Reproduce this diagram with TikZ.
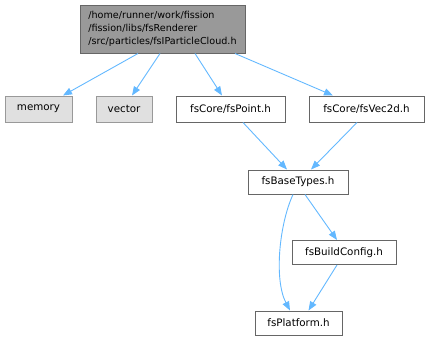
\documentclass[tikz,border=0pt]{standalone}
\usepackage{fontspec}
\setmainfont{DejaVu Sans}
\usetikzlibrary{arrows.meta}
\definecolor{edgeblue}{HTML}{63B8FF}
\definecolor{mainfill}{HTML}{999999}
\definecolor{sysfill}{HTML}{E0E0E0}
\definecolor{boxline}{HTML}{666666}
\definecolor{sysline}{HTML}{999999}

\begin{document}
\begin{tikzpicture}[x=1pt, y=-1pt,
    every node/.style={font=\fontsize{10.3}{13}\selectfont, inner sep=0pt, line width=1pt},
    mainbox/.style={draw=boxline, fill=mainfill, align=left, minimum width=165pt, minimum height=48pt, font=\fontsize{9.6}{13}\selectfont},
    sysbox/.style={draw=sysline, fill=sysfill, minimum height=26pt},
    filebox/.style={draw=boxline, fill=white, minimum height=24pt},
    edge/.style={draw=edgeblue, line width=0.9pt, -{Triangle[length=9pt,width=7pt]}}]
      \useasboundingbox (0,0) rectangle (429,340);

      % Nodes
      \node[mainbox] (top) at (162.5, 29) {/home/runner/work/fission\\/fission/libs/fsRenderer\\/src/particles/fsIParticleCloud.h};

      \node[sysbox, minimum width=67pt] (memory) at (38.5, 109) {memory};
      \node[sysbox, minimum width=56pt] (vector) at (124, 109) {vector};
      \node[filebox, minimum width=109pt, minimum height=26pt] (point) at (230.5, 109) {fsCore/fsPoint.h};
      \node[filebox, minimum width=115pt, minimum height=26pt] (vec2d) at (366.5, 109) {fsCore/fsVec2d.h};

      \node[filebox, minimum width=100pt] (basetypes) at (298, 182) {fsBaseTypes.h};
      \node[filebox, minimum width=104pt] (buildconfig) at (344, 252.5) {fsBuildConfig.h};
      \node[filebox, minimum width=87pt] (platform) at (298.5, 323) {fsPlatform.h};

      % Include edges
      \draw[edge] ([xshift=-24.5pt]top.south) -- ([xshift=24.5pt]memory.north);
      \draw[edge] ([xshift=-2.5pt]top.south) -- ([xshift=8pt]vector.north);
      \draw[edge] ([xshift=32.5pt]top.south) -- ([xshift=-8.5pt]point.north);
      \draw[edge] ([xshift=72.5pt]top.south) -- ([xshift=-33.5pt]vec2d.north);

      \draw[edge] ([xshift=12.5pt]point.south) -- ([xshift=-11pt]basetypes.north);
      \draw[edge] ([xshift=-9.5pt]vec2d.south) -- ([xshift=13pt]basetypes.north);

      \draw[edge] ([xshift=7pt]basetypes.south) -- ([xshift=-7pt]buildconfig.north);
      \draw[edge] ([xshift=-7pt]buildconfig.south) -- ([xshift=10pt]platform.north);
      \draw[edge] ([xshift=-5pt]basetypes.south) .. controls (279,225) and (274,280) .. ([xshift=-8.5pt]platform.north);
\end{tikzpicture}
\end{document}
